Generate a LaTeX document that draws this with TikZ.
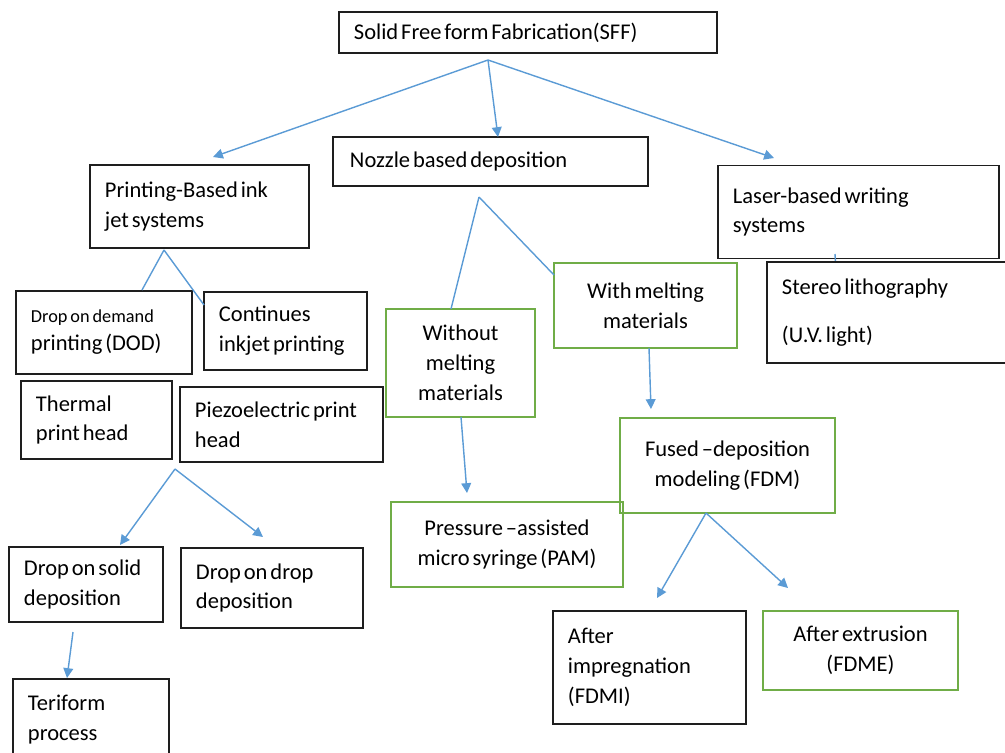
\documentclass[tikz,border=0pt]{standalone}
\usepackage{fontspec}
\setmainfont{Carlito}[WordSpace=0.55]
\usepackage{xcolor}
\usetikzlibrary{arrows.meta}

\definecolor{linkblue}{RGB}{91,155,213}
\definecolor{boxgreen}{RGB}{112,173,71}
\definecolor{boxblack}{RGB}{30,30,30}

\begin{document}
\begin{tikzpicture}[x=0.025cm, y=-0.025cm,
    every node/.style={font=\fontsize{16}{21.3}\selectfont, inner ysep=0pt,
      execute at begin node={\spaceskip=0.13em plus 0.05em\relax}},
    blackbox/.style={draw=boxblack, line width=1.1pt, align=left, inner xsep=0.375cm},
    greenbox/.style={draw=boxgreen, line width=1.1pt, align=center},
    link/.style={draw=linkblue, line width=1pt},
    linkarrow/.style={link, -{Triangle[length=7pt, width=7pt]}}]

    % Frame
    \useasboundingbox (0,0) rectangle (1005,752);
    \clip (0,0) rectangle (1005,752);

    % Top
    \node (sff) at (528,32.5) [blackbox, text width=8.7cm, minimum height=1.025cm] {Solid Free form Fabrication(SFF)};

    % First level
    \node (print) at (199.5,206.5) [blackbox, text width=4.725cm, minimum height=2.075cm] {Printing-Based ink\\jet systems};
    \node (nozzle) at (490.5,161.5) [blackbox, inner xsep=0.425cm, text width=7.025cm, minimum height=1.225cm] {Nozzle based deposition};
    \node (laser) at (858.5,212) [blackbox, text width=6.275cm, minimum height=2.325cm] {Laser-based writing\\systems};

    % Laser to stereo (mostly hidden)
    \coordinate (laserdown) at (835,254);
    \coordinate (stereoin) at (837,290);
    \draw[link] (laserdown) -- (stereoin);
    \node (stereo) at (891,312.5) [blackbox, fill=white, text width=5.45cm, minimum height=2.525cm] {Stereo lithography\\[0.45cm](U.V. light)};

    % Printing branch
    \node (dod) at (104,332.5) [blackbox, text width=3.65cm, minimum height=2.075cm] {{\fontsize{13}{17}\selectfont Drop on demand}\\[-0.05cm]printing (DOD)};
    \node (cont) at (285.5,331) [blackbox, text width=3.325cm, minimum height=1.95cm] {Continues\\inkjet printing};
    \node (thermal) at (96.5,420) [blackbox, text width=3.025cm, minimum height=1.95cm] {Thermal\\print head};
    \node (piezo) at (281.5,424.5) [blackbox, text width=4.325cm, minimum height=1.875cm] {Piezoelectric print\\head};
    \node (dos) at (86,584.5) [blackbox, text width=3.1cm, minimum height=1.875cm] {Drop on solid\\deposition};
    \node (dod2) at (272,588) [blackbox, text width=3.8cm, minimum height=2cm] {Drop on drop\\deposition};
    \node (teri) at (91,720) [blackbox, text width=3.15cm, minimum height=2.05cm] {Teriform\\process};

    % Nozzle branch
    \node (without) at (460.5,363) [greenbox, minimum width=3.725cm, minimum height=2.7cm] {Without\\melting\\materials};
    \node (with) at (645.5,305.5) [greenbox, minimum width=4.575cm, minimum height=2.125cm] {With melting\\materials};
    \node (fdm) at (727.5,465.5) [greenbox, minimum width=5.375cm, minimum height=2.375cm] {Fused --deposition\\modeling (FDM)};
    \node (pam) at (507,544.5) [greenbox, minimum width=5.8cm, minimum height=2.125cm] {Pressure --assisted\\micro syringe (PAM)};
    \node (fdmi) at (649.5,667.5) [blackbox, text width=4.075cm, minimum height=2.825cm] {After\\impregnation\\(FDMI)};
    \node (fdme) at (860.5,650.5) [greenbox, minimum width=4.875cm, minimum height=1.975cm] {After extrusion\\(FDME)};

    % Connector ends
    \coordinate (sffsplit) at (488,60);
    \coordinate (printin) at (213,157);
    \coordinate (nozzlein) at (498,137);
    \coordinate (laserin) at (774,158);
    \coordinate (printsplit) at (164,250);
    \coordinate (dodin) at (142,290);
    \coordinate (contin) at (204,305);
    \coordinate (nozzlesplit) at (479,197);
    \coordinate (withoutin) at (451,309);
    \coordinate (within) at (554,275);
    \coordinate (withdown) at (649,348);
    \coordinate (fdmin) at (651,409);
    \coordinate (withoutdown) at (461,417);
    \coordinate (pamin) at (467,493);
    \coordinate (piezosplit) at (175,469);
    \coordinate (dosin) at (120,545);
    \coordinate (dod2in) at (263,537);
    \coordinate (dosdown) at (73,632);
    \coordinate (teriin) at (67,678);
    \coordinate (fdmsplit) at (706,513);
    \coordinate (fdmiin) at (657,598);
    \coordinate (fdmein) at (788,588);

    % Connectors
    \draw[linkarrow] (sffsplit) -- (printin);
    \draw[linkarrow] (sffsplit) -- (nozzlein);
    \draw[linkarrow] (sffsplit) -- (laserin);
    \draw[link] (printsplit) -- (dodin);
    \draw[link] (printsplit) -- (contin);
    \draw[link] (nozzlesplit) -- (withoutin);
    \draw[link] (nozzlesplit) -- (within);
    \draw[linkarrow] (withdown) -- (fdmin);
    \draw[linkarrow] (withoutdown) -- (pamin);
    \draw[linkarrow] (piezosplit) -- (dosin);
    \draw[linkarrow] (piezosplit) -- (dod2in);
    \draw[linkarrow] (dosdown) -- (teriin);
    \draw[linkarrow] (fdmsplit) -- (fdmiin);
    \draw[linkarrow] (fdmsplit) -- (fdmein);
\end{tikzpicture}
\end{document}
